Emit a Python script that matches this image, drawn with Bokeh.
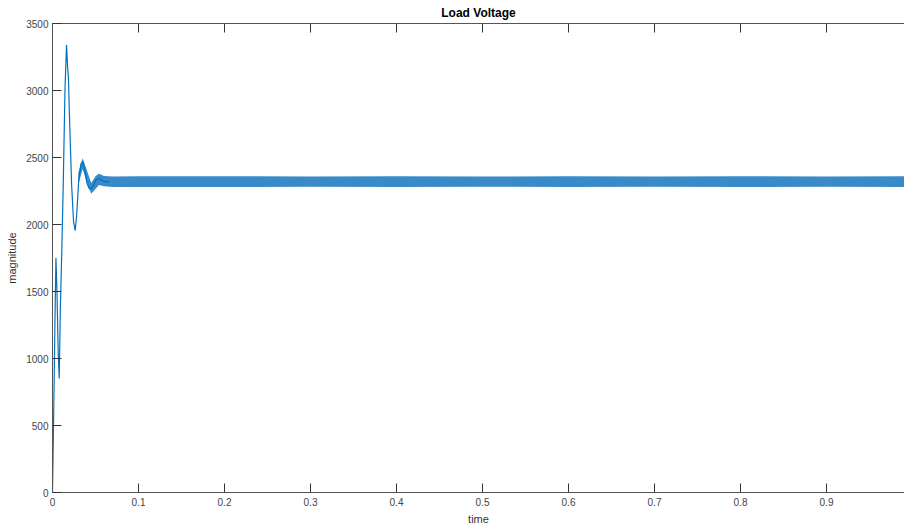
from bokeh.plotting import figure
from bokeh.models import Range1d, LinearAxis, FixedTicker
from bokeh.embed import file_html
from bokeh.resources import INLINE

# ---- data ----
t_trans = [0.0, 0.0012, 0.0028, 0.0040, 0.0052, 0.0066, 0.0078, 0.0092, 0.0108, 0.0125,
           0.0145, 0.0163, 0.0175, 0.0185, 0.0200, 0.0222, 0.0245, 0.0264, 0.0282,
           0.0305, 0.0330, 0.0353, 0.0375, 0.0400, 0.0425, 0.0450, 0.0475, 0.0505,
           0.0539, 0.0570, 0.0610, 0.0660]
v_trans = [0, 500, 1250, 1750, 1500, 1050, 850, 1400, 1800, 2300,
           3000, 3340, 3180, 3100, 2750, 2300, 2020, 1955, 2080,
           2330, 2450, 2470, 2400, 2310, 2270, 2265, 2290, 2330,
           2345, 2330, 2320, 2320]

# ripple envelope (upper / lower) of the steady-state band
t_band = [0.030, 0.035, 0.040, 0.045, 0.050, 0.054, 0.060, 0.070, 0.1, 0.2, 0.3, 0.4,
          0.5, 0.6, 0.7, 0.8, 0.9, 1.0]
band_hi = [2385, 2495, 2405, 2310, 2360, 2378, 2362, 2358, 2360, 2360, 2358, 2360,
           2358, 2360, 2358, 2360, 2358, 2360]
band_lo = [2295, 2415, 2315, 2230, 2265, 2295, 2285, 2280, 2280, 2280, 2282, 2280,
           2282, 2280, 2282, 2280, 2282, 2280]

x_ticks = [0, 0.1, 0.2, 0.3, 0.4, 0.5, 0.6, 0.7, 0.8, 0.9]
x_labels = ["0", "0.1", "0.2", "0.3", "0.4", "0.5", "0.6", "0.7", "0.8", "0.9"]
y_ticks = [0, 500, 1000, 1500, 2000, 2500, 3000, 3500]

BLUE = "#0072BD"
AX = "#555555"
FONT = "Liberation Sans"

p = figure(width=904, height=529, output_backend="svg", toolbar_location=None,
           x_range=Range1d(0, 0.9907), y_range=Range1d(0, 3500),
           min_border_left=52, min_border_right=0, min_border_top=0, min_border_bottom=37,
           x_axis_label="time", y_axis_label="magnitude")
p.title.text = "Load Voltage"
p.title.align = "center"
p.title.text_font = FONT
p.title.text_font_size = "12px"
p.title.text_font_style = "bold"
p.title.text_color = "#000000"
p.title.offset = 0
p.title.standoff = 7
p.outline_line_color = None
p.grid.visible = False
p.background_fill_color = "white"
p.border_fill_color = "white"

p.varea(x=t_band, y1=band_lo, y2=band_hi, fill_color="#1576c0", fill_alpha=0.85)
p.line(t_trans, v_trans, line_color=BLUE, line_width=1.2)

top = LinearAxis()
p.add_layout(top, "above")

for ax in p.xaxis:
    ax.ticker = FixedTicker(ticks=x_ticks)
    ax.major_label_overrides = {k: s for k, s in zip(x_ticks, x_labels)}
for ax in p.yaxis:
    ax.ticker = FixedTicker(ticks=y_ticks)

for ax in p.xaxis + p.yaxis:
    ax.major_tick_in = 9
    ax.major_tick_out = 0
    ax.minor_tick_line_color = None
    ax.axis_line_color = AX
    ax.major_tick_line_color = "#333333"
    ax.major_label_text_font = FONT
    ax.major_label_text_font_size = "10px"
    ax.major_label_text_color = "#444444"
    ax.major_label_standoff = 4
    ax.axis_label_text_font = FONT
    ax.axis_label_text_font_size = "11px"
    ax.axis_label_text_font_style = "normal"
    ax.axis_label_text_color = "#333333"
    ax.axis_label_standoff = 5

p.below[0].major_label_standoff = 5
p.below[0].axis_label_standoff = 4

top.major_label_overrides = {k: "" for k in x_ticks}
top.axis_label = None
top.major_label_standoff = 0

open("out.html", "w").write(file_html(p, INLINE))
